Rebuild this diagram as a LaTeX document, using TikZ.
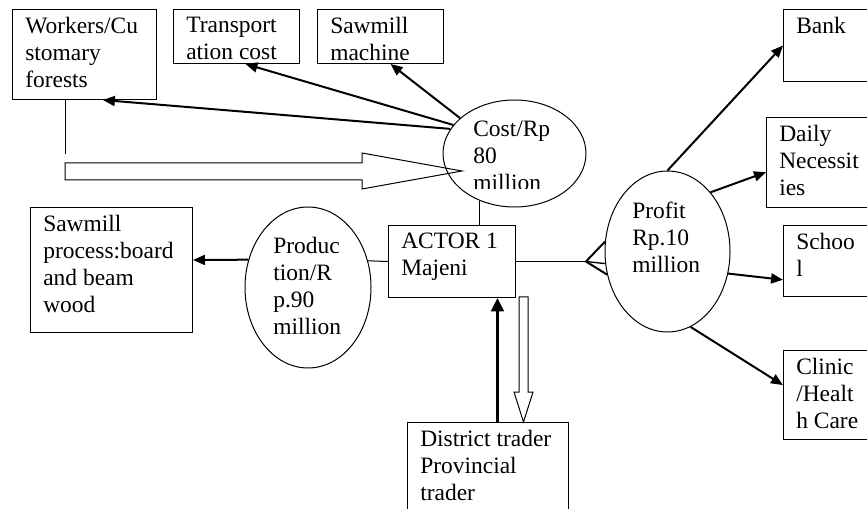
\documentclass[tikz,border=0pt]{standalone}
\usepackage{fontspec}
\setmainfont{Liberation Serif}
\usetikzlibrary{shapes.geometric,arrows.meta}
\def\fs{\fontsize{17.6pt}{20.3pt}\selectfont}

\begin{document}
\begin{tikzpicture}[x=0.75pt,y=-0.75pt,
  box/.style={draw,line width=0.75pt,anchor=north west,inner sep=0pt},
  boxtxt/.style={anchor=north west,align=left,inner xsep=9.75pt,inner ysep=6pt,font=\fs},
  oval/.style={draw,ellipse,line width=0.75pt,inner sep=0pt},
  ovaltxt/.style={anchor=north west,align=left,inner sep=0pt,font=\fs},
  arr/.style={line width=1.5pt,-{Triangle[length=9pt,width=7.5pt]}},
  bigarr/.style={line width=2.2pt,-{Triangle[length=10pt,width=9.5pt]}},
  hollow/.style={line width=0.75pt,line join=miter}]

\useasboundingbox (0,0) rectangle (867,509);

% boxes
\node[box,minimum width=108pt,minimum height=67.5pt,label={[boxtxt]north west:{Workers/Cu\\stomary\\forests}}] (workers) at (12,9) {};
\node[box,minimum width=94.5pt,minimum height=40.5pt,label={[boxtxt]north west:{Transport\\ation cost}}] (transport) at (173,9) {};
\node[box,minimum width=94.5pt,minimum height=40.5pt,label={[boxtxt]north west:{Sawmill\\machine}}] (machine) at (317,9) {};
\node[box,minimum width=121.5pt,minimum height=93.75pt,label={[boxtxt]north west:{Sawmill\\process:board\\and beam\\wood}}] (process) at (30,207) {};
\node[box,minimum width=95.25pt,minimum height=54pt,label={[boxtxt]north west:{ACTOR 1\\Majeni}}] (actor) at (388,225) {};
\node[box,minimum width=120.75pt,minimum height=75pt,label={[boxtxt]north west:{District trader\\Provincial\\trader}}] (trader) at (407,422) {};
\node[box,minimum width=69pt,minimum height=54pt,label={[boxtxt]north west:{Bank}}] (bank) at (783,9) {};
\node[box,minimum width=81.75pt,minimum height=67.5pt,label={[boxtxt]north west:{Daily\\Necessit\\ies}}] (daily) at (766,117) {};
\node[box,minimum width=69pt,minimum height=53.25pt,label={[boxtxt]north west:{Schoo\\l}}] (school) at (783,225) {};
\node[box,minimum width=69pt,minimum height=66.75pt,label={[boxtxt]north west:{Clinic\\/Healt\\h Care}}] (clinic) at (783,350) {};

% ovals
\node[oval,minimum width=94.5pt,minimum height=120.75pt] (production) at (308,287.5) {};
\node[oval,minimum width=107.25pt,minimum height=80.25pt] (cost) at (514.5,153.5) {};
\node[oval,minimum width=93.75pt,minimum height=120.75pt] (profit) at (667.5,251.5) {};
\node[ovaltxt] (prodtxt) at (273,237) {Produc\\tion/R\\p.90\\million};
\node[ovaltxt] (profittxt) at (632,202) {Profit\\Rp.10\\million};
\begin{scope}
  \clip (440,100) rectangle (590,189);
  \node[ovaltxt] (costtxt) at (473,121) {Cost/Rp\\80\\million};
\end{scope}

% costs
\foreach \a/\t/\b in {159/workers/-68, 155/transport/-72, 147/machine/-70}{
  \draw[arr] (cost.\a) -- (\t.\b);
}
\draw[line width=0.75pt] (workers.-113) -- ++(0,54);
\draw[hollow] (65,163) -- (362,163) -- (362,153) -- (462,171) -- (362,189) -- (362,180) -- (65,180) -- cycle;
\draw[line width=0.75pt] (cost.-127) -- (cost.-127 |- actor.north);

% production
\draw[line width=0.75pt] (actor.west) -- (production.24);
\draw[arr] (production.155) -- (process.7);

% traders
\draw[bigarr] ([xshift=34.1pt]actor.south |- trader.north) -- ([xshift=34.1pt]actor.south);
\draw[hollow] (519,297) -- (519,392) -- (514,392) -- (523.5,422) -- (533,392) -- (528,392) -- (528,297) -- cycle;

% profit
\draw[line width=0.75pt] (actor.east) -- ++(70,0) coordinate (fork);
\draw[line width=1.5pt] (profit.171) -- (fork) -- (profit.201);
\draw[line width=1pt] (fork) -- (profit.191);
\foreach \a/\t/\b in {90/bank/west, 54/daily/190, -20/school/202, -73/clinic/168}{
  \draw[arr] (profit.\a) -- (\t.\b);
}
\end{tikzpicture}
\end{document}
